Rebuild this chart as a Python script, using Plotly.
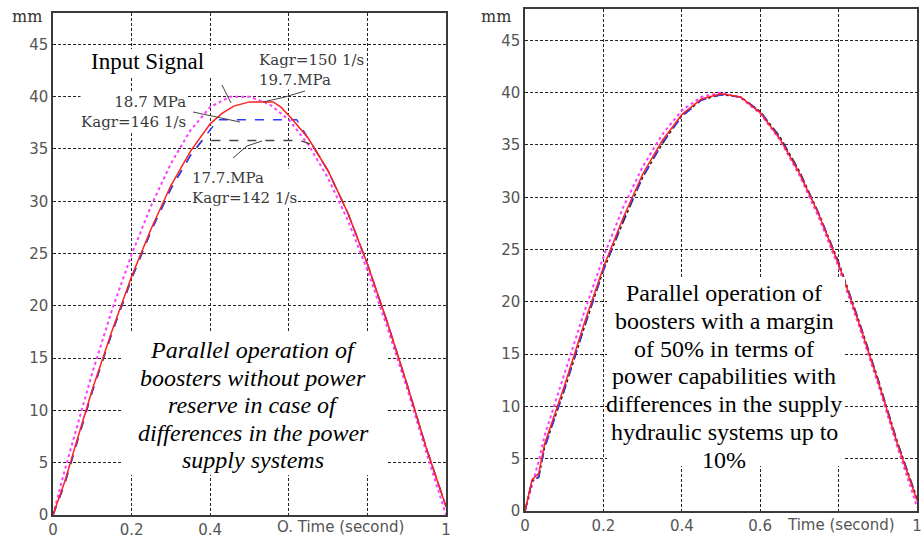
import plotly.graph_objects as go

# ---------------- data: left panel (no power reserve) ----------------
t_inp_l = [0, 0.03, 0.06, 0.1, 0.15, 0.2, 0.25, 0.3, 0.35, 0.4, 0.45, 0.5, 0.55, 0.6,
           0.65, 0.7, 0.75, 0.8, 0.85, 0.9, 0.95, 1.0]
y_inp_l = [0, 4.3, 8.3, 13.6, 19.6, 24.9, 29.6, 33.6, 36.8, 39.0, 40.0, 40.0, 39.3, 37.8,
           35.4, 32.2, 28.2, 23.4, 18.0, 12.2, 6.0, 0]

t_red_l = [0, 0.03, 0.06, 0.1, 0.15, 0.2, 0.25, 0.3, 0.35, 0.4, 0.43, 0.46, 0.5, 0.53, 0.56,
           0.58, 0.61, 0.65, 0.7, 0.75, 0.8, 0.85, 0.9, 0.95, 1.0]
y_red_l = [0, 3.2, 7.0, 12.0, 17.6, 22.8, 27.4, 31.5, 34.8, 37.4, 38.4, 39.1, 39.5, 39.5, 39.5,
           39.0, 37.8, 36.0, 32.9, 28.9, 24.0, 18.5, 12.6, 6.4, 0.8]

t_blue_l = [0, 0.03, 0.06, 0.1, 0.15, 0.2, 0.25, 0.3, 0.35, 0.4, 0.42, 0.62, 0.65, 0.7,
            0.75, 0.8, 0.85, 0.9, 0.95, 1.0]
y_blue_l = [0, 3.0, 6.8, 11.8, 17.4, 22.6, 27.2, 31.2, 34.4, 36.8, 37.8, 37.8, 36.0, 32.9,
            28.9, 24.0, 18.5, 12.6, 6.4, 0.8]

t_blk_l = [0, 0.03, 0.06, 0.1, 0.15, 0.2, 0.25, 0.3, 0.35, 0.38, 0.63, 0.66, 0.7, 0.75,
           0.8, 0.85, 0.9, 0.95, 1.0]
y_blk_l = [0, 3.0, 6.8, 11.8, 17.4, 22.6, 27.2, 31.2, 34.4, 35.8, 35.8, 35.4, 32.9, 28.9,
           24.0, 18.5, 12.6, 6.4, 0.8]

# ---------------- data: right panel (50% margin) ----------------
t_r = [0, 0.018, 0.035, 0.05, 0.1, 0.15, 0.2, 0.25, 0.3, 0.35, 0.4, 0.45, 0.5, 0.55, 0.6,
       0.65, 0.7, 0.75, 0.8, 0.85, 0.9, 0.95, 1.0]
y_inp_r = [0, 2.4, 4.8, 7.2, 13.0, 18.9, 24.3, 29.0, 32.9, 36.0, 38.3, 39.6, 40.0, 39.5,
           38.0, 35.5, 32.1, 28.0, 23.3, 17.9, 12.2, 6.1, 0.4]
y_red_r = [0, 3.0, 3.6, 6.4, 11.9, 17.8, 23.3, 28.0, 32.2, 35.4, 37.9, 39.4, 39.9, 39.6,
           38.1, 35.6, 32.3, 28.3, 23.6, 18.2, 12.5, 6.4, 1.0]
y_blue_r = [0, 2.8, 3.3, 6.0, 11.6, 17.5, 23.0, 27.8, 31.9, 35.2, 37.7, 39.3, 39.8, 39.6,
            38.2, 35.7, 32.4, 28.4, 23.7, 18.3, 12.6, 6.5, 1.1]
y_blk_r = [0, 2.9, 3.2, 6.1, 11.5, 17.4, 23.0, 27.6, 31.9, 35.1, 37.8, 39.3, 39.8, 39.6,
           38.2, 35.8, 32.5, 28.4, 23.8, 18.4, 12.7, 6.6, 1.2]

x_ticks = [0, 0.2, 0.4, 0.6, 0.8, 1]
x_text_l = ["0", "0.2", "0.4", "", "", "1"]
x_text_r = ["0", "0.2", "0.4", "0.6", "", "1"]
y_ticks = [0, 5, 10, 15, 20, 25, 30, 35, 40, 45]

left_lines = ["Parallel operation of", "boosters without power", "reserve in case of",
              "differences in the power", "supply systems"]
right_lines = ["Parallel operation of", "boosters with a margin", "of 50% in terms of",
               "power capabilities with", "differences in the supply",
               "hydraulic systems up to", "10%"]

# ---------------- page geometry (pixels) ----------------
W, H = 923, 539
YMAX = 48
L = dict(x0=53, x1=446, y0=515, y1=13)
R = dict(x0=525, x1=917, y0=511, y1=9)


def dx(p, px):
    return (px - p["x0"]) / (p["x1"] - p["x0"])


def dy(p, py):
    return YMAX * (p["y0"] - py) / (p["y0"] - p["y1"])


fig = go.Figure()


def add_line(xa, ya, t, y, color, dash, width):
    fig.add_trace(go.Scatter(x=t, y=y, mode="lines", xaxis=xa, yaxis=ya,
                             line=dict(color=color, dash=dash, width=width),
                             showlegend=False, hoverinfo="skip"))


MAG, RED, BLUE, BLK = "#ff3cff", "#ff2020", "#2f3cff", "#1a1a1a"

add_line("x", "y", t_inp_l, y_inp_l, MAG, "dot", 2)
add_line("x", "y", t_blk_l, y_blk_l, "#444444", "dash", 1.5)
add_line("x", "y", t_blue_l, y_blue_l, BLUE, "dash", 1.5)
add_line("x", "y", t_red_l, y_red_l, RED, "solid", 1.5)

add_line("x2", "y2", t_r, y_inp_r, MAG, "dot", 2)
add_line("x2", "y2", t_r, y_blk_r, BLK, "dashdot", 1.5)
add_line("x2", "y2", t_r, y_blue_r, BLUE, "dash", 1.5)
add_line("x2", "y2", t_r, y_red_r, RED, "solid", 1.5)

tickfont = dict(family="DejaVu Sans", size=15, color="#555555")
axis_common = dict(showgrid=True, gridcolor="#222222", gridwidth=1.3, griddash="3px,2px",
                   showline=True, mirror=True, linecolor="#3a3a3a", linewidth=1.5,
                   zeroline=False, ticks="", tickfont=tickfont, automargin=False,
                   fixedrange=True)


def xdom(p):
    return [p["x0"] / W, p["x1"] / W]


def ydom(p):
    return [1 - p["y0"] / H, 1 - p["y1"] / H]


fig.update_layout(
    width=W, height=H, margin=dict(l=0, r=0, t=0, b=0),
    paper_bgcolor="white", plot_bgcolor="white",
    xaxis=dict(domain=xdom(L), range=[0, 1], anchor="y", tickvals=x_ticks,
               ticktext=x_text_l, **axis_common),
    yaxis=dict(domain=ydom(L), range=[0, YMAX], anchor="x", tickvals=y_ticks, **axis_common),
    xaxis2=dict(domain=xdom(R), range=[0, 1], anchor="y2", tickvals=x_ticks,
                ticktext=x_text_r, **axis_common),
    yaxis2=dict(domain=ydom(R), range=[0, YMAX], anchor="x2", tickvals=y_ticks,
                **axis_common),
)

shapes = []
annotations = []


def white_box(p, xr, yr, px0, px1, py0, py1):
    shapes.append(dict(type="rect", xref=xr, yref=yr, layer="above",
                       x0=dx(p, px0), x1=dx(p, px1), y0=dy(p, py1), y1=dy(p, py0),
                       fillcolor="white", line=dict(width=0)))


# white panels behind the descriptive text blocks
white_box(L, "x", "y", 122, 387, 332, 475)
white_box(L, "x", "y", 82, 223, 49, 78)
white_box(R, "x2", "y2", 607, 845, 277, 466)

serif = "Liberation Serif"
for i, line in enumerate(left_lines):
    annotations.append(dict(xref="x", yref="y", x=dx(L, 253), y=dy(L, 350 + 27.5 * i),
                            text=line, showarrow=False, xanchor="center", yanchor="middle",
                            font=dict(family=serif, size=24, color="black", style="italic")))
for i, line in enumerate(right_lines):
    annotations.append(dict(xref="x2", yref="y2", x=dx(R, 724), y=dy(R, 293 + 27.8 * i),
                            text=line, showarrow=False, xanchor="center", yanchor="middle",
                            font=dict(family=serif, size=24, color="black")))

annotations.append(dict(xref="x", yref="y", x=dx(L, 147), y=dy(L, 62), text="Input Signal",
                        showarrow=False, xanchor="center", yanchor="middle",
                        font=dict(family=serif, size=23, color="black")))

lab_font = dict(family="DejaVu Serif", size=15, color="#3a3a3a")


def label(px, py, text, anchor):
    annotations.append(dict(xref="x", yref="y", x=dx(L, px), y=dy(L, py), text=text,
                            showarrow=False, xanchor=anchor, yanchor="middle", align=anchor,
                            font=lab_font, bgcolor="white", borderpad=0))


label(258, 70, "Kagr=150 1/s<br>19.7.MPa", "left")
label(187, 112, "18.7 MPa<br>Kagr=146 1/s", "right")
label(191, 188, "17.7.MPa<br>Kagr=142 1/s", "left")


def pointer(pts):
    path = "M " + " L ".join(f"{dx(L, a)},{dy(L, b)}" for a, b in pts)
    shapes.append(dict(type="path", xref="x", yref="y", layer="above", path=path,
                       line=dict(color="#444444", width=1)))


pointer([(222, 85), (231, 103)])
pointer([(305, 91), (285, 97), (263, 102)])
pointer([(193, 112), (240, 122)])
pointer([(233, 158), (247, 146), (262, 141)])

# axis unit and time labels
axis_lab = dict(family="DejaVu Sans", size=15, color="#555555")
unit_font = dict(family="DejaVu Serif", size=16, color="#333333")
annotations.append(dict(xref="paper", yref="paper", x=26.5 / W, y=1 - 17 / H, text="mm",
                        showarrow=False, xanchor="center", yanchor="middle", font=unit_font))
annotations.append(dict(xref="paper", yref="paper", x=496 / W, y=1 - 17 / H, text="mm",
                        showarrow=False, xanchor="center", yanchor="middle", font=unit_font))
annotations.append(dict(xref="paper", yref="paper", x=275 / W, y=1 - 527 / H,
                        text="O. Time (second)", showarrow=False, xanchor="left",
                        yanchor="middle", font=axis_lab))
annotations.append(dict(xref="paper", yref="paper", x=785 / W, y=1 - 525 / H,
                        text="Time (second)", showarrow=False, xanchor="left",
                        yanchor="middle", font=axis_lab))

fig.update_layout(shapes=shapes, annotations=annotations)
fig.write_html("out.html")
